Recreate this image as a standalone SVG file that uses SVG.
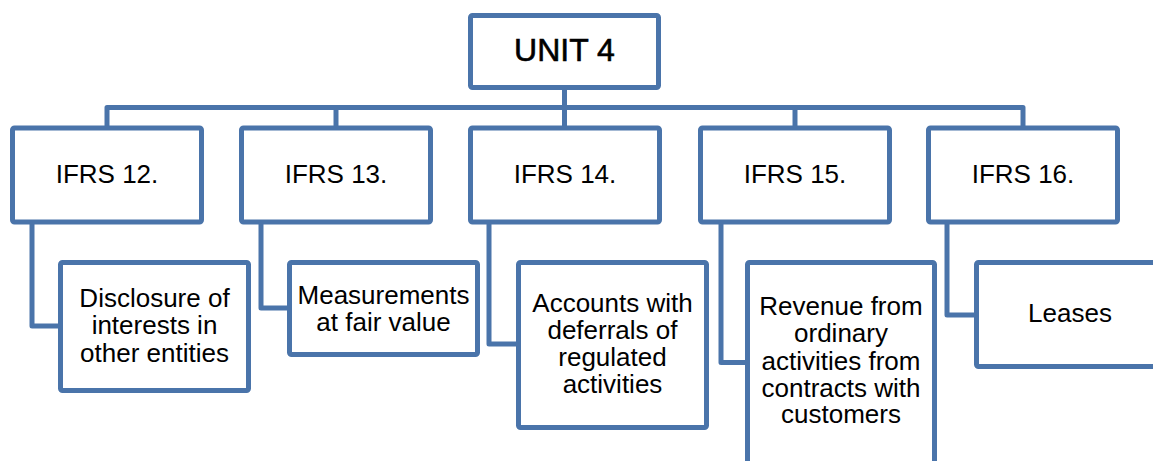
<svg xmlns="http://www.w3.org/2000/svg" width="1153" height="461" viewBox="0 0 1153 461">
<style>
.box{fill:#fff;stroke:#4a74aa;stroke-width:5}
.con{fill:none;stroke:#4a74aa;stroke-width:5;stroke-linejoin:round}
.t{font-family:"Liberation Sans",Arial,sans-serif;font-size:26px;fill:#000;text-anchor:middle}
.h{font-size:32px;stroke:#000;stroke-width:0.6}
</style>
<rect width="1153" height="461" fill="#fff"/>
<g id="connectors">
<path class="con" d="M107,128 V107.5 H1023 V128"/>
<path class="con" d="M564.5,88 V128"/>
<path class="con" d="M336,107.5 V128"/>
<path class="con" d="M795,107.5 V128"/>
<path class="con" d="M32,222 V326 H60"/>
<path class="con" d="M261,222 V308 H289"/>
<path class="con" d="M489,222 V344 H518"/>
<path class="con" d="M721,222 V362.5 H747"/>
<path class="con" d="M947,222 V315 H976"/>
</g>
<g id="unit4">
<rect class="box" x="470.5" y="15.5" width="188" height="72" rx="2"/>
<text class="t h" x="564.5" y="61">UNIT 4</text>
</g>
<g id="ifrs12">
<rect class="box" x="12.5" y="128" width="189" height="94" rx="2"/>
<text class="t" x="107" y="183">IFRS 12.</text>
</g>
<g id="ifrs13">
<rect class="box" x="241.5" y="128" width="189" height="94" rx="2"/>
<text class="t" x="336" y="183">IFRS 13.</text>
</g>
<g id="ifrs14">
<rect class="box" x="470.5" y="128" width="189" height="94" rx="2"/>
<text class="t" x="565" y="183">IFRS 14.</text>
</g>
<g id="ifrs15">
<rect class="box" x="700.5" y="128" width="189" height="94" rx="2"/>
<text class="t" x="795" y="183">IFRS 15.</text>
</g>
<g id="ifrs16">
<rect class="box" x="928.5" y="128" width="189" height="94" rx="2"/>
<text class="t" x="1023" y="183">IFRS 16.</text>
</g>
<g id="disclosure">
<rect class="box" x="60.5" y="262.5" width="188" height="128" rx="2"/>
<text class="t" x="154.5" y="306.5"><tspan x="154.5">Disclosure of</tspan><tspan x="154.5" dy="27.5">interests in</tspan><tspan x="154.5" dy="27.5">other entities</tspan></text>
</g>
<g id="measurements">
<rect class="box" x="289.5" y="262.5" width="188" height="92" rx="2"/>
<text class="t" x="383.5" y="303.5"><tspan x="383.5">Measurements</tspan><tspan x="383.5" dy="27">at fair value</tspan></text>
</g>
<g id="accounts">
<rect class="box" x="518.5" y="262.5" width="188" height="165" rx="2"/>
<text class="t" x="612.5" y="311.5"><tspan x="612.5">Accounts with</tspan><tspan x="612.5" dy="27">deferrals of</tspan><tspan x="612.5" dy="27.5">regulated</tspan><tspan x="612.5" dy="27">activities</tspan></text>
</g>
<g id="revenue">
<rect class="box" x="747.5" y="262.5" width="187" height="220" rx="2"/>
<text class="t" x="841" y="315"><tspan x="841">Revenue from</tspan><tspan x="841" dy="27">ordinary</tspan><tspan x="841" dy="27.5">activities from</tspan><tspan x="841" dy="27">contracts with</tspan><tspan x="841" dy="26.5">customers</tspan></text>
</g>
<g id="leases">
<rect class="box" x="976.5" y="262.5" width="200" height="104" rx="2"/>
<text class="t" x="1070" y="321.5">Leases</text>
</g>
</svg>
